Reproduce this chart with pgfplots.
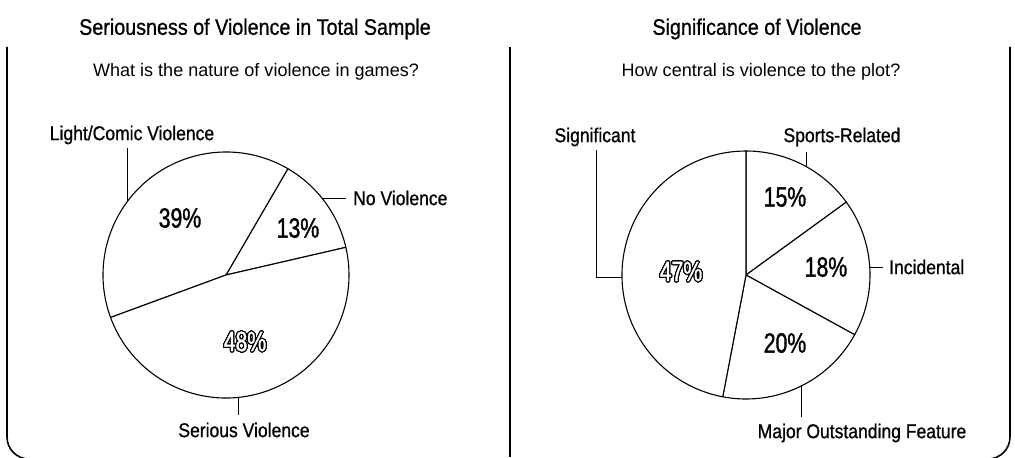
\documentclass[border=0pt]{standalone}
\usepackage{pgfplots}
\pgfplotsset{compat=1.18}
\usepackage{pgfplotstable}
\usepackage{fontspec}
\usepackage[copies]{contour}
\setmainfont{Liberation Sans}
\newfontfamily\cond[FakeStretch=0.88,FakeBold=0.8]{Liberation Sans}
\newfontfamily\pctf[FakeStretch=0.76,FakeBold=1.2]{Liberation Sans}
\contourlength{1.1pt}
\contournumber{24}

\pgfplotstableread{
label pct
{No Violence} 13
{Light/Comic Violence} 39
{Serious Violence} 48
}\leftdata
\pgfplotstableread{
label pct
{Sports-Related} 15
{Incidental} 18
{Major Outstanding Feature} 20
{Significant} 47
}\rightdata

% #1 table, #2 cx, #3 cy, #4 radius, #5 start angle, #6 direction (+1 ccw, -1 cw)
\newcommand\piechart[6]{%
  \pgfplotstablegetrowsof{#1}\pgfmathtruncatemacro\pien{\pgfplotsretval-1}%
  \xdef\piestart{#5}%
  \foreach \i in {0,...,\pien}{%
    \pgfplotstablegetelem{\i}{pct}\of{#1}\let\piev\pgfplotsretval
    \pgfmathsetmacro\pieend{\piestart+#6*3.6*\piev}%
    \filldraw[fill=white,draw=black,line width=1.1pt,line join=round]
      (axis cs:#2,#3) -- ++(\piestart:#4) arc[start angle=\piestart,end angle=\pieend,radius=#4] -- cycle;
    \xdef\piestart{\pieend}%
  }}

\newcommand\ttl{\cond\fontsize{22.5}{25}\selectfont}
\newcommand\sub{\fontsize{18.1}{20}\selectfont}
\newcommand\lbl{\cond\fontsize{20}{22}\selectfont}
\newcommand\pct{\pctf\fontsize{28}{30}\selectfont}

\begin{document}
\begin{tikzpicture}
\begin{axis}[hide axis, scale only axis, width=1015bp, height=457bp,
  xmin=0, xmax=1015, ymin=0, ymax=457, clip=false]
\pgfplotsextra{
  \piechart{\leftdata}{226}{182}{123bp}{13}{1}
  \piechart{\rightdata}{746}{182}{124bp}{90}{-1}
  % borders
  \draw[line width=1.6pt, rounded corners=22bp] (axis cs:7,410) -- (axis cs:7,-2) -- (axis cs:60,-2);
  \draw[line width=1.6pt] (axis cs:510,410) -- (axis cs:510,0);
  \draw[line width=1.6pt, rounded corners=22bp] (axis cs:1010,410) -- (axis cs:1010,-2) -- (axis cs:950,-2);
  % leader lines
  \draw[line width=0.9pt] (axis cs:127,309) -- (axis cs:127,255);
  \draw[line width=0.9pt] (axis cs:322,259) -- (axis cs:346,259);
  \draw[line width=0.9pt] (axis cs:238,59.6) -- (axis cs:238,42);
  \draw[line width=0.9pt] (axis cs:596,307) -- (axis cs:596,180) -- (axis cs:622,180);
  \draw[line width=0.9pt] (axis cs:806,305) -- (axis cs:806,290.5);
  \draw[line width=0.9pt] (axis cs:870,190) -- (axis cs:883,190);
  \draw[line width=0.9pt] (axis cs:801,71) -- (axis cs:801,40);
  % titles
  \node[font=\ttl] at (axis cs:255,428) {Seriousness of Violence in Total Sample};
  \node[font=\ttl] at (axis cs:757,428) {Significance of Violence};
  \node[font=\sub] at (axis cs:256,385) {What is the nature of violence in games?};
  \node[font=\sub] at (axis cs:761,385) {How central is violence to the plot?};
  % labels
  \node[font=\lbl] at (axis cs:132,322) {Light/Comic Violence};
  \node[font=\lbl, anchor=west, inner sep=0pt] at (axis cs:353,259) {No Violence};
  \node[font=\lbl] at (axis cs:244,27) {Serious Violence};
  \node[font=\lbl] at (axis cs:595,320) {Significant};
  \node[font=\lbl] at (axis cs:842,320) {Sports-Related};
  \node[font=\lbl, anchor=west, inner sep=0pt] at (axis cs:889,190) {Incidental};
  \node[font=\lbl] at (axis cs:862,24) {Major Outstanding Feature};
  % percentages
  \node[font=\pct] at (axis cs:180,239) {39\%};
  \node[font=\pct] at (axis cs:298,229) {13\%};
  \node[font=\pct] at (axis cs:245,115) {\contour{black}{\textcolor{white}{48\%}}};
  \node[font=\pct] at (axis cs:785,260) {15\%};
  \node[font=\pct] at (axis cs:826,190) {18\%};
  \node[font=\pct] at (axis cs:785,114) {20\%};
  \node[font=\pct] at (axis cs:681,185) {\contour{black}{\textcolor{white}{47\%}}};
}
\end{axis}
\pgfresetboundingbox
\path (current axis.south west) rectangle (current axis.north east);
\end{tikzpicture}
\end{document}
